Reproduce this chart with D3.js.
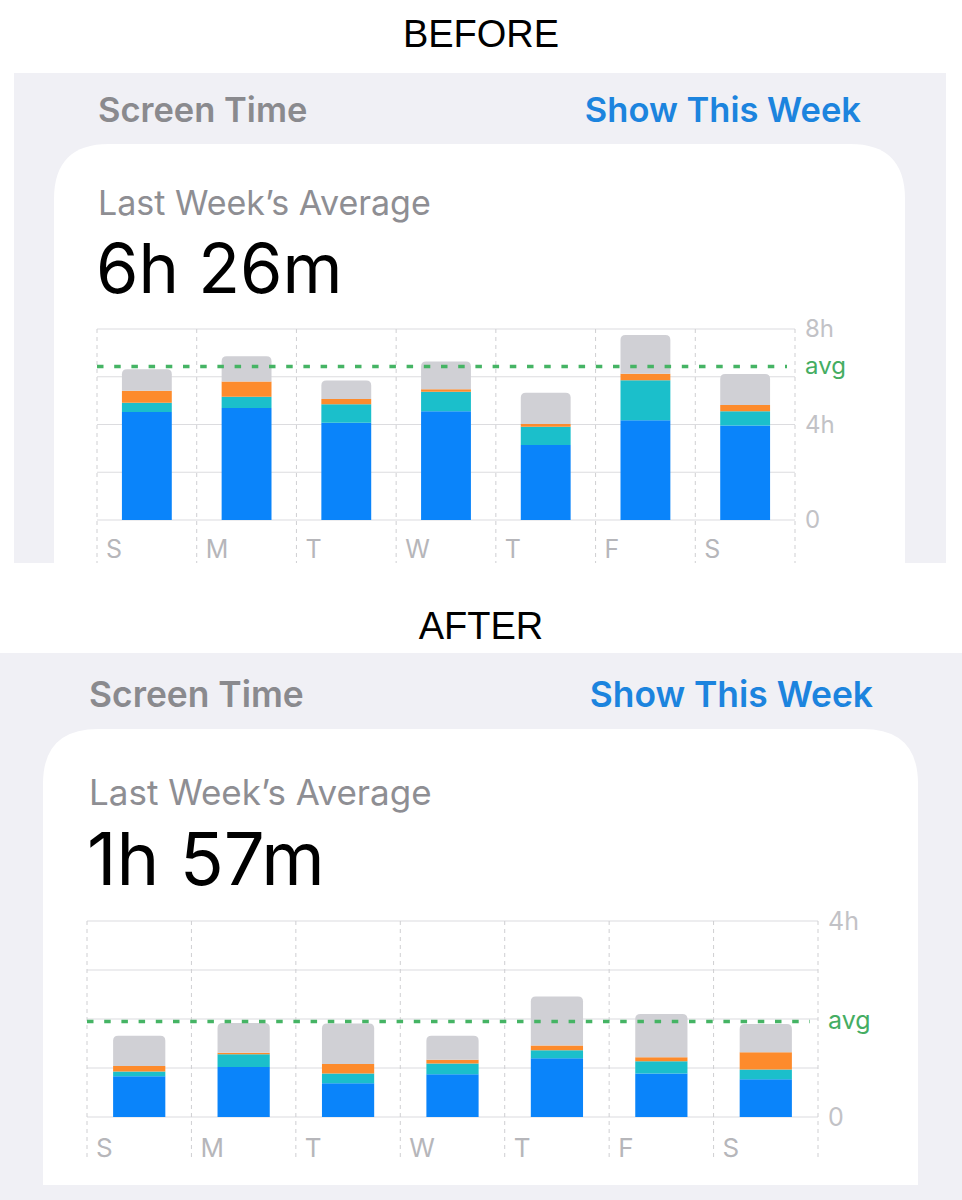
<!DOCTYPE html>
<html>
<head>
<meta charset="utf-8">
<script src="https://cdn.jsdelivr.net/npm/d3@7"></script>
<style>
  body { margin: 0; background: #fff; }
  svg { display: block; }
</style>
</head>
<body>
<script>
// Day labels and series (hours per day)
const days = ["S", "M", "T", "W", "T", "F", "S"];
const segmentKeys = ["cat1", "cat2", "cat3", "cat4"];
const segmentColors = ["#0a84fa", "#1bbfcb", "#fd8b2c", "#d0d0d5"];

const beforeCat1 = [4.52, 4.69, 4.07, 4.56, 3.14, 4.18, 3.96];
const beforeCat2 = [0.39, 0.47, 0.78, 0.81, 0.77, 1.67, 0.60];
const beforeCat3 = [0.50, 0.64, 0.22, 0.11, 0.11, 0.28, 0.26];
const beforeCat4 = [0.90, 1.06, 0.77, 1.16, 1.31, 1.62, 1.30];
const beforeAvg = 6 + 26 / 60;
const beforeGrid = [0, 2, 4, 6, 8];
const beforeTicks = [0, 4, 8];
const beforeTickLabels = ["0", "4h", "8h"];

const afterCat1 = [0.83, 1.02, 0.69, 0.87, 1.20, 0.89, 0.77];
const afterCat2 = [0.10, 0.26, 0.20, 0.22, 0.16, 0.25, 0.20];
const afterCat3 = [0.11, 0.03, 0.19, 0.08, 0.10, 0.08, 0.35];
const afterCat4 = [0.62, 0.61, 0.83, 0.49, 1.00, 0.88, 0.58];
const afterAvg = 1 + 57 / 60;
const afterGrid = [0, 1, 2, 3, 4];
const afterTicks = [0, 4];
const afterTickLabels = ["0", "4h"];

const width = 962;
const height = 1200;
const uiFont = "Inter, 'Noto Sans', sans-serif";

const svg = d3.select("body").append("svg")
    .attr("width", width)
    .attr("height", height)
    .attr("viewBox", [0, 0, width, height]);

// BEFORE / AFTER captions
svg.append("text")
    .attr("x", 481).attr("y", 47)
    .attr("text-anchor", "middle")
    .attr("font-family", "'Liberation Sans', Arial, sans-serif")
    .attr("font-size", 38)
    .text("BEFORE");

svg.append("text")
    .attr("x", 481).attr("y", 639)
    .attr("text-anchor", "middle")
    .attr("font-family", "'Liberation Sans', Arial, sans-serif")
    .attr("font-size", 38)
    .text("AFTER");

function topRounded(x, y, w, h, r) {
    r = Math.min(r, h, w / 2);
    return `M${x},${y + h}V${y + r}Q${x},${y} ${x + r},${y}H${x + w - r}Q${x + w},${y} ${x + w},${y + r}V${y + h}Z`;
}

function drawPanel(p) {
    const g = svg.append("g");

    g.append("rect")
        .attr("x", p.bg[0]).attr("y", p.bg[1])
        .attr("width", p.bg[2]).attr("height", p.bg[3])
        .attr("fill", "#f0f0f5");

    // white card, rounded on top only
    const c = p.card;
    g.append("path")
        .attr("d", topRounded(c[0], c[1], c[2], c[3], 55))
        .attr("fill", "#fff");

    g.append("text")
        .attr("x", p.textX).attr("y", p.headerY)
        .attr("font-family", uiFont).attr("font-weight", 600)
        .attr("font-size", p.headerSize)
        .attr("fill", "#8a8a8e")
        .text("Screen Time");

    g.append("text")
        .attr("x", p.linkX).attr("y", p.headerY)
        .attr("text-anchor", "end")
        .attr("font-family", uiFont).attr("font-weight", 600)
        .attr("font-size", p.headerSize)
        .attr("fill", "#1c84de")
        .text("Show This Week");

    g.append("text")
        .attr("x", p.textX).attr("y", p.subY)
        .attr("font-family", uiFont)
        .attr("font-size", p.subSize)
        .attr("fill", "#8e8e93")
        .text("Last Week’s Average");

    g.append("text")
        .attr("x", p.textX - 2).attr("y", p.bigY)
        .attr("font-family", uiFont)
        .attr("font-size", p.bigSize)
        .attr("fill", "#000")
        .text(p.bigText);

    // chart
    const rows = days.map((d, i) => {
        const r = {i: i};
        segmentKeys.forEach((k, j) => r[k] = p.series[j][i]);
        return r;
    });
    const stacked = d3.stack().keys(segmentKeys)(rows);

    const x = d3.scaleBand()
        .domain(d3.range(days.length))
        .range([p.x0, p.x1])
        .paddingInner(0.5)
        .paddingOuter(0.25);
    const y = d3.scaleLinear()
        .domain([0, d3.max(p.grid)])
        .range([p.yBase, p.yTop]);
    const step = x.step();

    const chart = g.append("g");

    // horizontal grid
    chart.append("g")
        .selectAll("line")
        .data(p.grid)
        .join("line")
        .attr("x1", p.x0).attr("x2", p.x1)
        .attr("y1", d => y(d)).attr("y2", d => y(d))
        .attr("stroke", "#dcdcdf")
        .attr("stroke-width", 1.2);

    // dashed day separators
    chart.append("g")
        .selectAll("line")
        .data(d3.range(days.length + 1))
        .join("line")
        .attr("x1", d => p.x0 + d * step).attr("x2", d => p.x0 + d * step)
        .attr("y1", p.yTop).attr("y2", p.sepBottom)
        .attr("stroke", "#cfcfd2")
        .attr("stroke-width", 1)
        .attr("stroke-dasharray", "4,4");

    // stacked bars, top segment rounded
    const bars = chart.append("g");
    stacked.forEach((layer, li) => {
        bars.append("g")
            .attr("fill", segmentColors[li])
            .selectAll("path")
            .data(layer)
            .join("path")
            .attr("d", d => {
                const bx = x(d.data.i), bw = x.bandwidth();
                const y0 = y(d[1]), h = y(d[0]) - y(d[1]);
                const r = li === segmentKeys.length - 1 ? 5 : 0;
                return topRounded(bx, y0, bw, h, r);
            });
    });

    // average line
    chart.append("line")
        .attr("x1", p.x0).attr("x2", p.x1 - 8)
        .attr("y1", y(p.avg)).attr("y2", y(p.avg))
        .attr("stroke", "#45b464")
        .attr("stroke-width", 3.5)
        .attr("stroke-dasharray", "6.5,10.7");

    // day labels
    chart.append("g")
        .selectAll("text")
        .data(days)
        .join("text")
        .attr("x", (d, i) => p.x0 + i * step + 9)
        .attr("y", p.dayY)
        .attr("font-family", uiFont)
        .attr("font-size", p.daySize)
        .attr("fill", "#b6b6ba")
        .text(d => d);

    // right axis
    const axis = chart.append("g")
        .attr("transform", `translate(${p.x1},0)`)
        .call(d3.axisRight(y)
            .tickValues(p.ticks)
            .tickSize(0)
            .tickPadding(10)
            .tickFormat((d, i) => p.tickLabels[i]));
    axis.select(".domain").remove();
    axis.selectAll("text")
        .attr("font-family", uiFont)
        .attr("font-size", p.axisSize)
        .attr("fill", "#c2c2c6");

    chart.append("text")
        .attr("x", p.x1 + 10).attr("y", y(p.avg))
        .attr("dy", "0.32em")
        .attr("font-family", uiFont)
        .attr("font-size", p.axisSize)
        .attr("fill", "#45ad62")
        .text("avg");
}

drawPanel({
    bg: [14, 73, 932, 490],
    card: [54, 144, 851, 419],
    textX: 98, linkX: 861, headerY: 122, headerSize: 34.5,
    subY: 215, subSize: 34,
    bigY: 293, bigSize: 68.5, bigText: "6h 26m",
    x0: 97, x1: 795, yTop: 329, yBase: 520, sepBottom: 563,
    dayY: 558, daySize: 25, axisSize: 24,
    series: [beforeCat1, beforeCat2, beforeCat3, beforeCat4],
    grid: beforeGrid, ticks: beforeTicks, tickLabels: beforeTickLabels,
    avg: beforeAvg
});

drawPanel({
    bg: [0, 653, 962, 547],
    card: [43, 729, 875, 456],
    textX: 89, linkX: 873, headerY: 707, headerSize: 35.4,
    subY: 805, subSize: 35,
    bigY: 885, bigSize: 72.5, bigText: "1h 57m",
    x0: 87, x1: 818, yTop: 921, yBase: 1117, sepBottom: 1161,
    dayY: 1157, daySize: 26, axisSize: 25,
    series: [afterCat1, afterCat2, afterCat3, afterCat4],
    grid: afterGrid, ticks: afterTicks, tickLabels: afterTickLabels,
    avg: afterAvg
});
</script>
</body>
</html>
